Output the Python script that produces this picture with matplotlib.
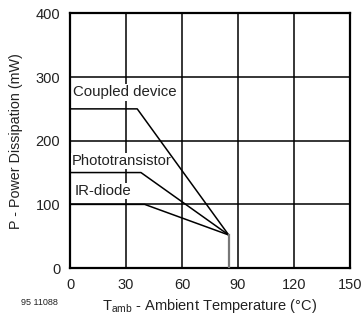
import matplotlib
matplotlib.use('Agg')
import matplotlib.pyplot as plt

plt.rcParams['font.family'] = ['Liberation Sans', 'DejaVu Sans']
plt.rcParams['mathtext.fontset'] = 'custom'
plt.rcParams['mathtext.rm'] = 'Liberation Sans'

# derating curves (Tamb in degC, P in mW)
coupled_t = [0, 36, 85, 85]
coupled_p = [250, 250, 52, 0]
photo_t = [0, 38, 85]
photo_p = [150, 150, 52]
ir_t = [0, 40, 85]
ir_p = [100, 100, 52]

x_ticks = [0, 30, 60, 90, 120, 150]
y_ticks = [0, 100, 200, 300, 400]

fig = plt.figure(figsize=(3.63, 3.18), dpi=100)
ax = fig.add_axes([0.193, 0.157, 0.771, 0.801])

ax.plot(coupled_t[:3], coupled_p[:3], color='black', lw=1.1, zorder=5)
ax.plot(photo_t, photo_p, color='black', lw=1.1, zorder=5)
ax.plot(ir_t, ir_p, color='black', lw=1.1, zorder=5)
# vertical drop drawn greyish like the scan
ax.plot(coupled_t[2:], coupled_p[2:], color='#777777', lw=1.6, zorder=5)

ax.set_xlim(0, 150)
ax.set_ylim(0, 400)
ax.set_xticks(x_ticks)
ax.set_yticks(y_ticks)
ax.tick_params(length=0, labelsize=10.5, pad=7, colors='#222222')
ax.grid(True, color='black', lw=1.1)
ax.set_axisbelow(True)
for s in ax.spines.values():
    s.set_linewidth(1.6)

box = dict(facecolor='white', edgecolor='none', pad=1.0)
ax.text(1.5, 276, 'Coupled device', fontsize=10.8, va='center', ha='left', bbox=box, zorder=4, color='#222222')
ax.text(1.0, 168, 'Phototransistor', fontsize=10.6, va='center', ha='left', bbox=box, zorder=4, color='#222222')
ax.text(2.5, 121, 'IR-diode', fontsize=10.8, va='center', ha='left', bbox=box, zorder=4, color='#222222')

ax.set_xlabel(r'T$_\mathrm{amb}$ - Ambient Temperature (°C)', fontsize=10.5, color='#222222', labelpad=4)
ax.set_ylabel('P - Power Dissipation (mW)', fontsize=10.3, color='#222222', labelpad=9)
fig.text(0.057, 0.04, '95 11088', fontsize=6.5, color='#222222')

fig.savefig('out.png', dpi=100)
